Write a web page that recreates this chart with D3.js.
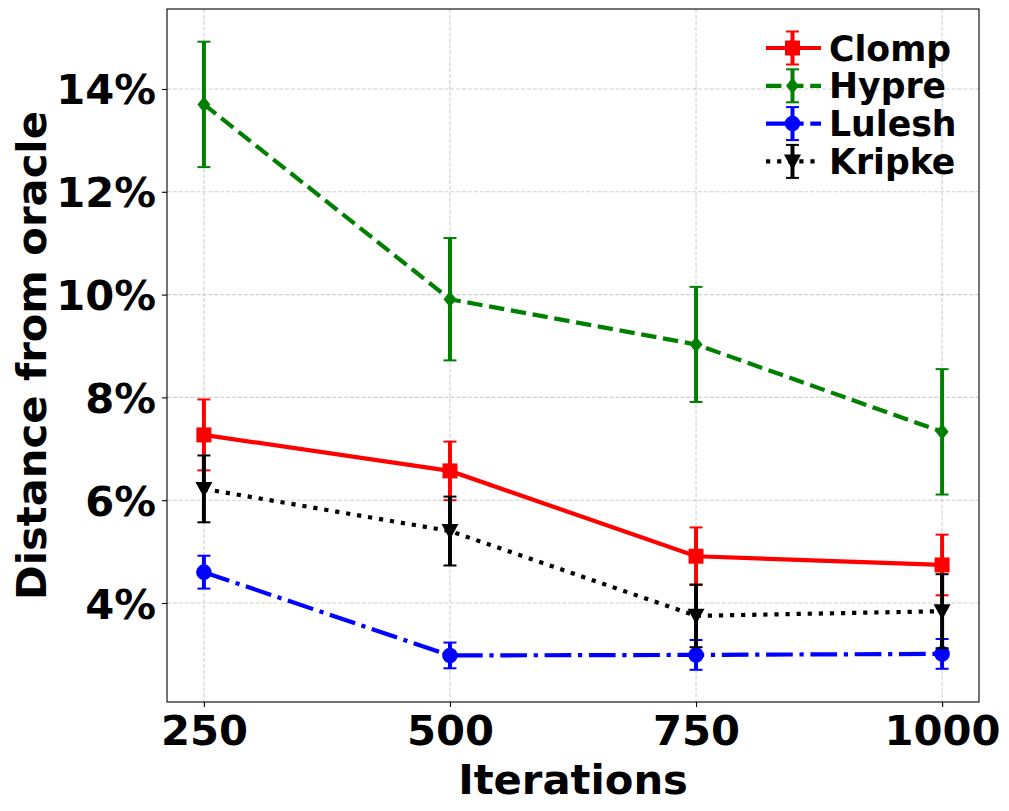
<!DOCTYPE html>
<html>
<head>
<meta charset="utf-8">
<script src="https://cdn.jsdelivr.net/npm/d3@7"></script>
<style>
  body { margin: 0; background: #fff; }
  text { font-family: "DejaVu Sans", sans-serif; font-weight: bold; }
</style>
</head>
<body>
<div id="chart"></div>
<script>
// data
const iterations = [250, 500, 750, 1000];
const xTicks = [250, 500, 750, 1000];
const yTicks = [4, 6, 8, 10, 12, 14];

const clompMean = [7.27, 6.57, 4.91, 4.74];
const clompErr  = [0.69, 0.57, 0.56, 0.59];
const hypreMean = [13.70, 9.91, 9.03, 7.33];
const hypreErr  = [1.22, 1.19, 1.12, 1.22];
const luleshMean = [4.60, 2.98, 2.99, 3.01];
const luleshErr  = [0.32, 0.25, 0.29, 0.29];
const kripkeMean = [6.22, 5.40, 3.75, 3.84];
const kripkeErr  = [0.65, 0.67, 0.61, 0.72];

const series = [
  {name: "Clomp",  mean: clompMean,  err: clompErr,  color: "#ff0000", dash: null,             marker: "square"},
  {name: "Hypre",  mean: hypreMean,  err: hypreErr,  color: "#008000", dash: "15.4,6.7",       marker: "diamond"},
  {name: "Lulesh", mean: luleshMean, err: luleshErr, color: "#0000ff", dash: "26.7,6.7,4.2,6.7", marker: "circle"},
  {name: "Kripke", mean: kripkeMean, err: kripkeErr, color: "#000000", dash: "4.2,6.9",        marker: "tridown"}
];

const W = 1009, H = 811;
const margin = {left: 167, right: 30, top: 9, bottom: 109};
const width = W - margin.left - margin.right,
      height = H - margin.top - margin.bottom;

const x = d3.scaleLinear().domain([212.5, 1037.5]).range([0, width]);
const y = d3.scaleLinear().domain([2.074, 15.556]).range([height, 0]);

const svg = d3.select("#chart").append("svg")
    .attr("width", W)
    .attr("height", H)
  .append("g")
    .attr("transform", "translate(" + margin.left + "," + margin.top + ")");

// grid
svg.append("g").selectAll("line").data(yTicks).enter().append("line")
    .attr("x1", 0).attr("x2", width)
    .attr("y1", d => y(d)).attr("y2", d => y(d))
    .attr("stroke", "#b0b0b0").attr("stroke-opacity", 0.6)
    .attr("stroke-width", 1.1).attr("stroke-dasharray", "4.1,1.8");
svg.append("g").selectAll("line").data(xTicks).enter().append("line")
    .attr("y1", 0).attr("y2", height)
    .attr("x1", d => x(d)).attr("x2", d => x(d))
    .attr("stroke", "#b0b0b0").attr("stroke-opacity", 0.6)
    .attr("stroke-width", 1.1).attr("stroke-dasharray", "4.1,1.8");

// axes
const xAxis = svg.append("g")
    .attr("transform", "translate(0," + height + ")")
    .call(d3.axisBottom(x).tickValues(xTicks).tickFormat(d3.format("d")).tickSize(5).tickPadding(6).tickSizeOuter(0));
const yAxis = svg.append("g")
    .call(d3.axisLeft(y).tickValues(yTicks).tickFormat(d => d + "%").tickSize(5).tickPadding(6).tickSizeOuter(0));
[xAxis, yAxis].forEach(a => {
  a.select(".domain").remove();
  a.selectAll("text").style("font-size", "41.7px").attr("fill", "#000");
  a.selectAll("line").attr("stroke", "#000").attr("stroke-width", 1.1);
});
xAxis.selectAll("text").attr("dy", "0.76em");
yAxis.selectAll("text").attr("dy", "0.36em");

// frame
svg.append("rect")
    .attr("width", width).attr("height", height)
    .attr("fill", "none").attr("stroke", "#000").attr("stroke-width", 1.1);

function drawMarker(g, type, cx, cy, color) {
  if (type === "square") {
    g.append("rect").attr("x", cx - 7.5).attr("y", cy - 7.5)
      .attr("width", 15).attr("height", 15).attr("fill", color);
  } else if (type === "circle") {
    g.append("circle").attr("cx", cx).attr("cy", cy).attr("r", 7.8).attr("fill", color);
  } else if (type === "diamond") {
    g.append("path").attr("d", `M${cx},${cy-8}L${cx+6.5},${cy}L${cx},${cy+8}L${cx-6.5},${cy}Z`)
      .attr("fill", color);
  } else if (type === "tridown") {
    g.append("path").attr("d", `M${cx-8.5},${cy-7}L${cx+8.5},${cy-7}L${cx},${cy+8.5}Z`)
      .attr("fill", color);
  }
}

function drawErr(g, cx, yTop, yBot, color) {
  g.append("line").attr("x1", cx).attr("x2", cx).attr("y1", yTop).attr("y2", yBot)
    .attr("stroke", color).attr("stroke-width", 4);
  [yTop, yBot].forEach(v => g.append("line")
    .attr("x1", cx - 6.5).attr("x2", cx + 6.5).attr("y1", v).attr("y2", v)
    .attr("stroke", color).attr("stroke-width", 2));
}

const line = d3.line().x(d => x(d[0])).y(d => y(d[1]));

series.forEach(s => {
  const g = svg.append("g");
  const pts = iterations.map((it, i) => [it, s.mean[i]]);
  g.append("path").datum(pts)
    .attr("d", line)
    .attr("fill", "none")
    .attr("stroke", s.color)
    .attr("stroke-width", 4.2)
    .attr("stroke-dasharray", s.dash);
  pts.forEach((p, i) => drawMarker(g, s.marker, x(p[0]), y(p[1]), s.color));
  pts.forEach((p, i) => drawErr(g, x(p[0]), y(p[1] + s.err[i]), y(p[1] - s.err[i]), s.color));
});

// legend
const leg = svg.append("g").attr("transform", "translate(" + (766 - margin.left) + "," + (48 - margin.top) + ")");
series.forEach((s, i) => {
  const g = leg.append("g").attr("transform", "translate(0," + (i * 37.8) + ")");
  g.append("line").attr("x1", 0).attr("x2", 55).attr("y1", 0).attr("y2", 0)
    .attr("stroke", s.color).attr("stroke-width", 4.2).attr("stroke-dasharray", s.dash);
  drawMarker(g, s.marker, 26.5, 0, s.color);
  drawErr(g, 26.5, -16.5, 16.5, s.color);
  g.append("text").attr("x", 63).attr("y", 0).attr("dy", "0.36em")
    .style("font-size", "34.7px").text(s.name);
});

// titles
svg.append("text")
    .attr("x", width / 2).attr("y", 794 - margin.top)
    .attr("text-anchor", "middle")
    .style("font-size", "41.7px")
    .text("Iterations");
svg.append("text")
    .attr("transform", "translate(" + (46 - margin.left) + "," + (height / 2) + ") rotate(-90)")
    .attr("text-anchor", "middle")
    .style("font-size", "41.7px")
    .text("Distance from oracle");
</script>
</body>
</html>
